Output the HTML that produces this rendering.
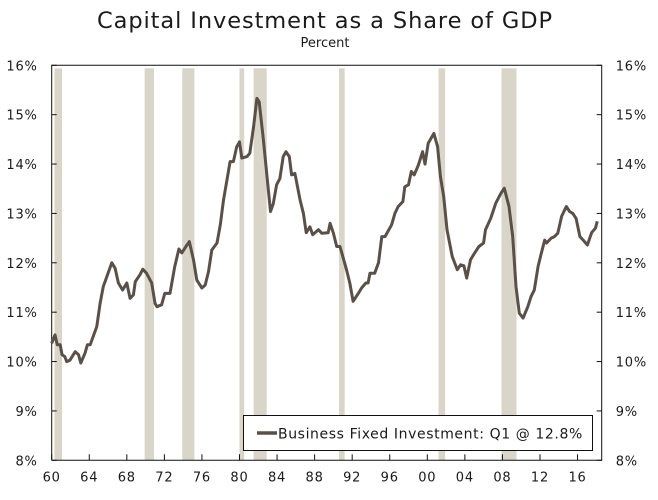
<!DOCTYPE html>
<html><head><meta charset="utf-8"><style>
body{margin:0;background:#fff;}
svg text{font-family:"DejaVu Sans","Liberation Sans",sans-serif;fill:#1a1a1a;}
</style></head><body>
<svg id="c" width="658" height="495">
<text x="325" y="28" text-anchor="middle" font-size="22.5" letter-spacing="0.9">Capital Investment as a Share of GDP</text>
<text x="325" y="47" text-anchor="middle" font-size="13">Percent</text>
<g id="shades"></g><g id="axes"></g><g id="series"></g>
<g>
<rect x="243.5" y="415.5" width="349" height="35" fill="#fff" stroke="#111" stroke-width="1"/>
<line x1="257" y1="433" x2="277" y2="433" stroke="#5a5048" stroke-width="3.5"/>
<text x="278" y="438.5" font-size="14" letter-spacing="0.6">Business Fixed Investment: Q1 @ 12.8%</text>
</g>
</svg>
<script>
const years=[1960,1960.35,1960.6,1960.9,1961.1,1961.4,1961.6,1961.95,1962.5,1962.85,1963.1,1963.55,1963.8,1964.1,1964.8,1965.15,1965.5,1966.4,1966.75,1967.1,1967.55,1968,1968.35,1968.7,1968.9,1969.4,1969.7,1970.1,1970.65,1971,1971.2,1971.7,1972.05,1972.6,1973.1,1973.55,1973.85,1974.4,1974.65,1975.1,1975.45,1976,1976.35,1976.7,1977.05,1977.6,1977.95,1978.3,1979,1979.35,1979.7,1980,1980.25,1980.8,1981.1,1981.5,1981.85,1982.1,1982.55,1982.9,1983.3,1983.6,1983.95,1984.3,1984.65,1984.95,1985.3,1985.55,1985.9,1986.45,1986.8,1987.1,1987.5,1987.8,1988.4,1988.75,1989.45,1989.65,1990,1990.35,1990.7,1991.4,1991.75,1992.1,1992.65,1993,1993.45,1993.7,1993.9,1994.4,1994.8,1995.15,1995.5,1996.2,1996.55,1996.9,1997.4,1997.6,1998,1998.3,1998.6,1999.05,1999.5,1999.75,2000.1,2000.7,2001.1,2001.4,2001.75,2002.1,2002.65,2003.2,2003.55,2003.9,2004.2,2004.6,2005.05,2005.5,2006,2006.2,2006.75,2007.3,2007.85,2008.2,2008.7,2009.1,2009.45,2009.8,2010.2,2010.7,2011.05,2011.4,2011.8,2012.15,2012.5,2012.7,2013.2,2013.55,2013.9,2014.3,2014.8,2015.15,2015.5,2015.85,2016.25,2016.6,2017.05,2017.5,2017.9,2018.1];
const values=[10.37,10.54,10.34,10.34,10.14,10.1,10.0,10.03,10.2,10.14,9.97,10.17,10.34,10.34,10.71,11.18,11.52,12.0,11.89,11.59,11.45,11.59,11.28,11.35,11.62,11.76,11.87,11.79,11.59,11.18,11.11,11.15,11.38,11.38,11.92,12.28,12.2,12.36,12.43,12.06,11.65,11.49,11.55,11.82,12.26,12.4,12.77,13.27,14.05,14.05,14.35,14.45,14.12,14.15,14.22,14.76,15.33,15.26,14.49,13.81,13.04,13.2,13.58,13.71,14.15,14.25,14.15,13.78,13.81,13.27,13.0,12.61,12.73,12.57,12.67,12.6,12.61,12.8,12.6,12.33,12.33,11.86,11.59,11.22,11.38,11.49,11.59,11.59,11.79,11.79,12.0,12.53,12.53,12.77,13.0,13.14,13.24,13.54,13.58,13.85,13.78,13.98,14.25,14.0,14.42,14.62,14.35,13.75,13.34,12.67,12.13,11.86,11.96,11.94,11.69,12.06,12.2,12.33,12.4,12.67,12.9,13.21,13.41,13.51,13.14,12.53,11.52,10.98,10.88,11.11,11.32,11.45,11.93,12.2,12.46,12.4,12.5,12.53,12.6,12.94,13.14,13.04,13.0,12.9,12.53,12.46,12.36,12.61,12.7,12.84];
const recStart=[1960.3,1969.9,1973.9,1980.0,1981.5,1990.6,2001.2,2007.9];
const recEnd=[1961.1,1970.9,1975.2,1980.5,1982.9,1991.2,2001.9,2009.5];
const yTicks=[8,9,10,11,12,13,14,15,16];
const xTickYears=[1960,1964,1968,1972,1976,1980,1984,1988,1992,1996,2000,2004,2008,2012,2016];
const xTickLabels=["60","64","68","72","76","80","84","88","92","96","00","04","08","12","16"];

const L=51.7,R=601.7,T=65.3,B=460.3,X0=1960,PPY=9.39;
const xs=y=>L+(y-X0)*PPY;
const ys=v=>B-(v-8)*(B-T)/8;
const NS="http://www.w3.org/2000/svg";
function mk(tag,attrs,parent,txt){const e=document.createElementNS(NS,tag);for(const k in attrs)e.setAttribute(k,attrs[k]);if(txt!==undefined)e.textContent=txt;parent.appendChild(e);return e;}
const sh=document.getElementById('shades'),ax=document.getElementById('axes'),se=document.getElementById('series');
recStart.forEach((s,i)=>{const r=mk('rect',{x:xs(s),y:T+3,width:xs(recEnd[i])-xs(s),height:B-T-3,fill:'#d9d5c9'},sh);

});
const frame=mk('path',{d:`M${L},${B}V${T}H${R}V${B}H${L}`,fill:'none',stroke:'#111','stroke-width':1},ax);


yTicks.forEach(t=>{const y=ys(t);
mk('line',{x1:L,x2:L+5,y1:y,y2:y,stroke:'#111'},ax);mk('line',{x1:R-5,x2:R,y1:y,y2:y,stroke:'#111'},ax);
const a=mk('text',{x:L-14,y:y+5,'text-anchor':'end','font-size':13,'letter-spacing':0.8},ax,t+'%');


const b=mk('text',{x:R+14,y:y+5,'font-size':13,'letter-spacing':0.8},ax,t+'%');

});
xTickYears.forEach((yr,i)=>{const x=xs(yr);mk('line',{x1:x,x2:x,y1:B,y2:B-6,stroke:'#111'},ax);
const t=mk('text',{x:x,y:B+21,'text-anchor':'middle','font-size':13,'letter-spacing':0.8},ax,xTickLabels[i]);

});
const d=years.map((y,i)=>(i?'L':'M')+xs(y).toFixed(1)+','+ys(values[i]).toFixed(1)).join('');
const p=mk('path',{d:d,fill:'none',stroke:'#5a5048','stroke-width':3,'stroke-linejoin':'round'},se);


</script>
</body></html>
